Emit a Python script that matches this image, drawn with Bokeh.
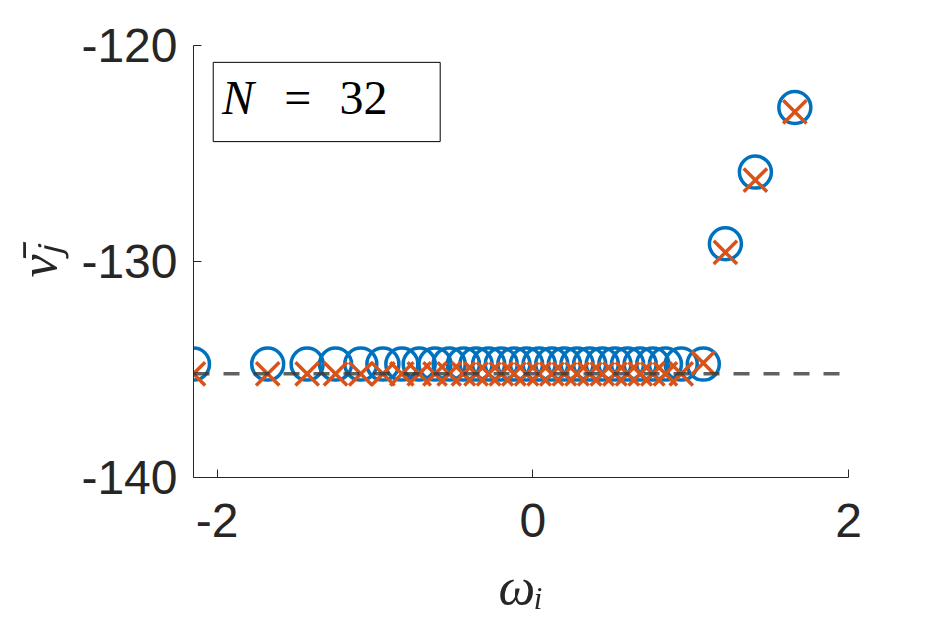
from bokeh.plotting import figure
from bokeh.models import Range1d, Span, Label, BoxAnnotation, FixedTicker
from bokeh.embed import file_html
from bokeh.resources import INLINE

# ---- data ----
omega = [-2.15, -1.68, -1.43, -1.25, -1.09, -0.95, -0.83, -0.72, -0.62, -0.53,
         -0.44, -0.36, -0.28, -0.20, -0.12, -0.04, 0.04, 0.12, 0.20, 0.28,
         0.36, 0.44, 0.52, 0.60, 0.68, 0.76, 0.84, 0.94, 1.08, 1.22, 1.41, 1.66]
nu_circle = [-134.75] * 29 + [-129.18, -125.86, -122.87]
nu_cross = [-135.2] * 28 + [-134.7, -129.58, -126.23, -123.07]
nu_ref = -135.2
x_ticks = [-2, 0, 2]
y_ticks = [-140, -130, -120]
x_lim = (-2.15, 2.0)
y_lim = (-140, -120)

blue = "#0072BD"
orange = "#D95319"
txt = "#262626"

p = figure(frame_width=655, frame_height=432,
           x_range=Range1d(*x_lim), y_range=Range1d(*y_lim),
           output_backend="svg", toolbar_location=None,
           min_border_left=193, min_border_right=74,
           min_border_top=45, min_border_bottom=132)
p.outline_line_color = None
p.grid.visible = False

for ax in (p.xaxis, p.yaxis):
    ax.major_tick_in = 8
    ax.major_tick_out = 0
    ax.minor_tick_line_color = None
    ax.axis_line_color = txt
    ax.major_tick_line_color = txt
    ax.axis_line_width = 1
    ax.major_label_text_font = "Liberation Sans"
    ax.major_label_text_font_size = "48px"
    ax.major_label_text_color = txt
    ax.axis_label_text_font = "Liberation Serif"
    ax.axis_label_text_font_style = "italic"
    ax.axis_label_text_font_size = "52px"
    ax.axis_label_text_color = txt

p.xaxis.ticker = FixedTicker(ticks=x_ticks)
p.yaxis.ticker = FixedTicker(ticks=y_ticks)
p.xaxis.major_label_overrides = {t: str(t) for t in x_ticks}
p.yaxis.major_label_overrides = {t: str(t) for t in y_ticks}
p.xaxis.major_label_standoff = 26
p.yaxis.major_label_standoff = 16
p.xaxis.axis_label = "ωᵢ"
p.yaxis.axis_label = "ν̄ⱼ"
p.xaxis.axis_label_standoff = 18
p.yaxis.axis_label_standoff = 11

p.scatter(omega, nu_circle, marker="circle", size=32, fill_color=None,
          line_color=blue, line_width=3.5)
p.scatter(omega, nu_cross, marker="x", size=33, line_color=orange, line_width=3.5)

p.add_layout(Span(location=nu_ref, dimension="width", line_color="#3a3a3a",
                  line_alpha=0.8, line_width=3.5, line_dash="16 14"))

p.add_layout(BoxAnnotation(left=-2.025, right=-0.587, top=-120.78, bottom=-124.45,
                           fill_color="white", fill_alpha=1.0,
                           line_color="black", line_width=1, line_alpha=1.0))
box_texts = [("N", -1.970, "italic"), ("=", -1.575, "normal"), ("32", -1.225, "normal")]
for t, xx, st in box_texts:
    p.add_layout(Label(x=xx, y=-122.42, text=t, text_font="Liberation Serif",
                       text_font_style=st, text_font_size="48px",
                       text_color="black", text_baseline="alphabetic"))

open("out.html", "w").write(file_html(p, INLINE))
